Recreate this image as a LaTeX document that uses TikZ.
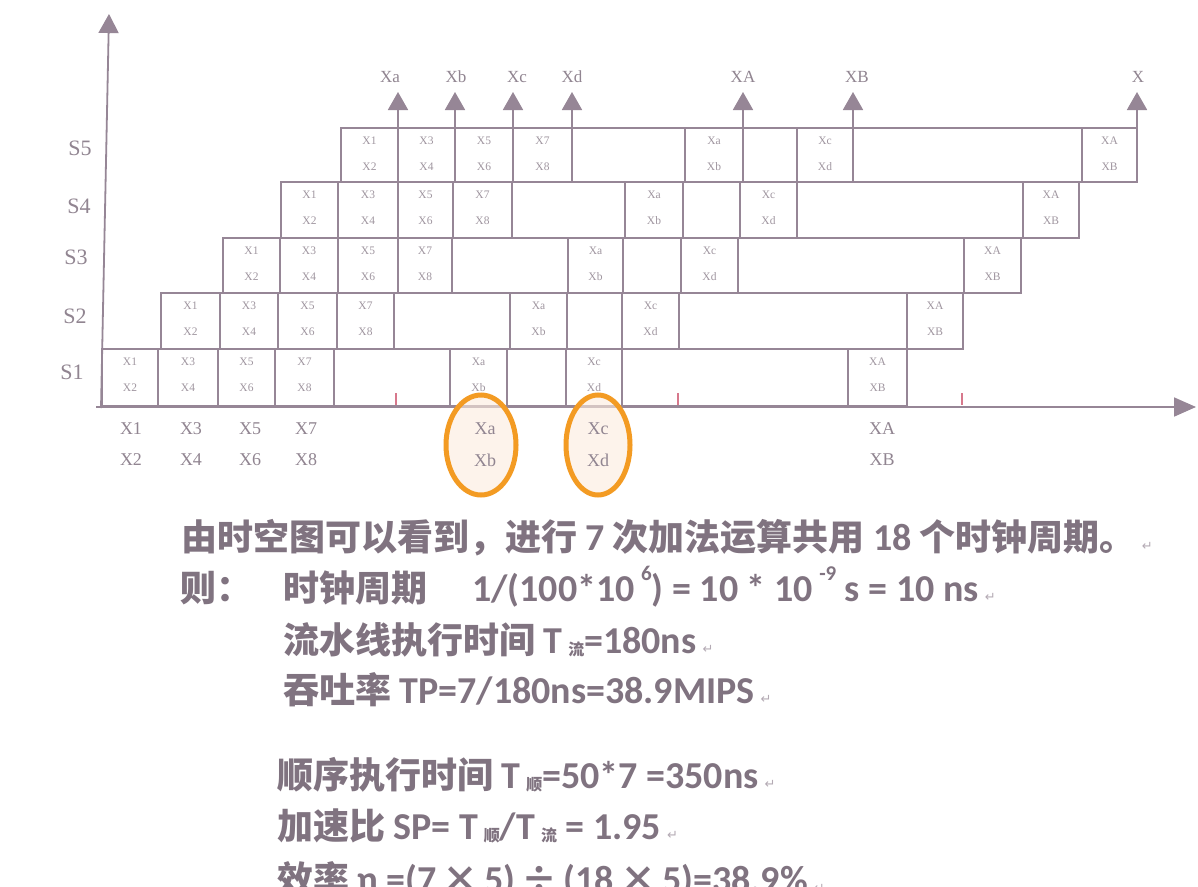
\documentclass[tikz,border=0pt]{standalone}
\usepackage{fontspec}
\setmainfont{Liberation Serif}
\newfontfamily\cjk{Noto Sans CJK SC}
\newfontfamily\lat{Carlito}
\newfontfamily\djv{DejaVu Sans}
\usetikzlibrary{arrows.meta,shapes.geometric}
\definecolor{gline}{RGB}{150,134,150}
\definecolor{ctext}{RGB}{160,150,160}
\definecolor{ltext}{RGB}{145,133,145}
\definecolor{btext}{RGB}{128,115,128}
\definecolor{tickred}{RGB}{215,120,140}
\definecolor{ringor}{RGB}{243,155,35}
\definecolor{ringfill}{RGB}{252,236,222}
\definecolor{retgray}{RGB}{180,170,180}
\newcommand\cellpair[6]{%
  \node[celltxt] (#1u) at ({(#2+#3)/2},{#4+13}) {#5};
  \node[celltxt] (#1l) at ({(#2+#3)/2},{#4+39}) {#6};}
\newcommand\lt[1]{{\lat\fontsize{38}{38}\selectfont #1}}
\newcommand\sups[1]{\raisebox{0.55em}{\fontsize{21}{21}\selectfont #1}}
\newcommand\sbc[1]{{\cjk\fontsize{16}{16}\selectfont\raisebox{-0.15em}{#1}}}
\newcommand\ret{\,{\djv\mdseries\fontsize{13}{13}\selectfont\textcolor{retgray}{↵}}}
\begin{document}
\begin{tikzpicture}[x=1pt,y=-1pt,
  gridline/.style={draw=gline,line width=1.8pt},
  celltxt/.style={font=\fontsize{11.5}{11.5}\selectfont,text=ctext,inner sep=0pt},
  stagelbl/.style={font=\fontsize{22}{22}\selectfont,text=ltext,inner sep=0pt},
  outlbl/.style={font=\fontsize{17}{17}\selectfont,text=ltext,inner sep=0pt},
  inlbl/.style={font=\fontsize{18}{18}\selectfont,text=ltext,inner sep=0pt},
  body/.style={font=\cjk\bfseries\fontsize{36}{36}\selectfont,text=btext,anchor=base west,inner sep=0pt},
  ring/.style={ellipse,draw=ringor,line width=5pt,fill=ringfill,fill opacity=0.6,draw opacity=1,inner sep=0pt,minimum width=70pt,minimum height=100pt},
  arr/.style={-{Triangle[width=20pt,length=18pt]}},
]
\useasboundingbox (0,0) rectangle (1198,886);
\fill[white] (0,0) rectangle (1198,886);

% stage rows
\foreach \rn/\rt/\rb/\pa/\pb/\pc/\pd/\pe/\pf/\pg/\ph/\pi/\pj/\pk in {
 1/349/406/102/158/218/275/334/450/507/566/622/848/907,
 2/293/349/161/220/278/337/394/510/567/622/679/907/963,
 3/238/293/223/280/338/398/452/568/623/681/738/964/1021,
 4/182/238/281/338/398/453/512/625/683/740/797/1023/1079,
 5/128/182/341/398/455/513/572/685/743/797/853/1082/1137}{
  \draw[gridline] (\pa,\rt) rectangle (\pk,\rb);
  \foreach \x in {\pb,\pc,\pd,\pe,\pf,\pg,\ph,\pi,\pj} \draw[gridline] (\x,\rt) -- (\x,\rb);
  \cellpair{s\rn-c1}{\pa}{\pb}{\rt}{X1}{X2}
  \cellpair{s\rn-c2}{\pb}{\pc}{\rt}{X3}{X4}
  \cellpair{s\rn-c3}{\pc}{\pd}{\rt}{X5}{X6}
  \cellpair{s\rn-c4}{\pd}{\pe}{\rt}{X7}{X8}
  \cellpair{s\rn-c6}{\pf}{\pg}{\rt}{Xa}{Xb}
  \cellpair{s\rn-c8}{\ph}{\pi}{\rt}{Xc}{Xd}
  \cellpair{s\rn-c10}{\pj}{\pk}{\rt}{XA}{XB}
}

% output arrows
\foreach \n/\x in {a/398,b/455,c/513,d/572,A/743,B/853,X/1137}{
  \coordinate (o\n0) at (\x,182);
  \coordinate (o\n1) at (\x,92);
  \draw[gridline,arr,fill=gline] (o\n0) -- (o\n1);
}
\node[outlbl] (tXa) at (390,77) {Xa};
\node[outlbl] (tXb) at (456,77) {Xb};
\node[outlbl] (tXc) at (517,77) {Xc};
\node[outlbl] (tXd) at (572,77) {Xd};
\node[outlbl] (tXA) at (743,77) {XA};
\node[outlbl] (tXB) at (857,77) {XB};
\node[outlbl] (tX)  at (1138,77) {X};

% axes
\coordinate (Ybot) at (101,408);
\coordinate (Ytop) at (109,14);
\coordinate (Xbeg) at (96,407);
\coordinate (Xend) at (1196,407);
\draw[gridline,fill=gline,-{Triangle[width=20pt,length=19pt]}] (Ybot) -- (Ytop);
\draw[gridline,fill=gline,-{Triangle[width=19pt,length=22pt]}] (Xbeg) -- (Xend);
\foreach \x in {396,678,962} \draw[draw=tickred,line width=1.3pt] (\x,393) -- (\x,405);

% stage labels
\node[stagelbl] (S5) at (80,148) {S5};
\node[stagelbl] (S4) at (79,206) {S4};
\node[stagelbl] (S3) at (76,257) {S3};
\node[stagelbl] (S2) at (75,316) {S2};
\node[stagelbl] (S1) at (72,372) {S1};

% highlight rings
\node[ring] (ringA) at (481,445) {};
\node[ring,minimum width=64pt] (ringC) at (598,445) {};

% input labels
\foreach \n/\x/\u/\l in {1/131/X1/X2,2/191/X3/X4,3/250/X5/X6,4/306/X7/X8,5/485/Xa/Xb,6/598/Xc/Xd,7/882/XA/XB}{
  \node[inlbl] (in\n u) at (\x,429) {\u};
  \node[inlbl] (in\n l) at (\x,460) {\l};
}

% body text
\node[body] (t1) at (181,550) {由时空图可以看到，进行 \lt{7} 次加法运算共用 \lt{18} 个时钟周期。\ret};
\node[body] (t2a) at (180,601) {则：};
\node[body] (t2b) at (283,601) {时钟周期};
\node[body] (t2c) at (472,601) {\lt{1/(100*10\,\sups{6}) = 10 * 10\,\sups{-9} s = 10 ns}\ret};
\node[body] (t3) at (283,653) {流水线执行时间 \lt{T}\,\sbc{流}\lt{=180ns}\ret};
\node[body] (t4) at (283,703) {吞吐率 \lt{TP=7/180ns=38.9MIPS}\ret};
\node[body] (t5) at (277,788) {顺序执行时间 \lt{T}\,\sbc{顺}\lt{=50*7 =350ns}\ret};
\node[body] (t6) at (277,839) {加速比 \lt{SP= T}\,\sbc{顺}\lt{/T}\,\sbc{流}\lt{ = 1.95}\ret};
\node[body] (t7) at (277,892) {效率 \lt{η =(7}\,×\,\lt{5)}\,÷\,\lt{(18}\,×\,\lt{5)=38.9\%}\ret};
\end{tikzpicture}
\end{document}
